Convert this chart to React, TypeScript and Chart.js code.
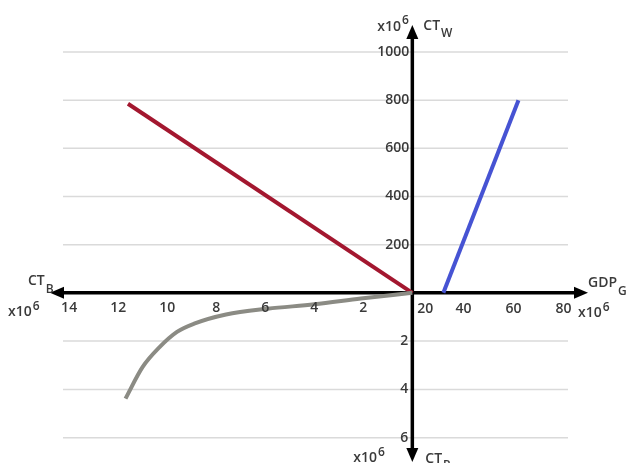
import { useEffect, useRef } from "react";
import { Chart, registerables } from "chart.js";
Chart.register(...registerables);

// Tick labels
const ctBTicks = [14, 12, 10, 8, 6, 4, 2];
const gdpTicks = [20, 40, 60, 80];
const ctWTicks = [200, 400, 600, 800, 1000];
const ctPTicks = [2, 4, 6];

// Series (x10^6)
const redCTB = [11.6, 0];
const redCTW = [785, 0];
const blueGDP = [32, 62];
const blueCTW = [0, 800];
const grayCTB = [0, 2.1, 4.0, 5.9, 7.6, 8.9, 9.6, 10.3, 11.0, 11.7];
const grayCTP = [0, 0.24, 0.48, 0.66, 0.9, 1.28, 1.62, 2.24, 3.07, 4.38];

const FONT = "'Open Sans', sans-serif";
const TEXT = "#3a3a3a";

const zip = (xs: number[], ys: number[]) => xs.map((x, i) => ({ x, y: ys[i] }));

const quadrantPlugin = {
  id: "quadrant",
  beforeDatasetsDraw(chart: any) {
    const { ctx, chartArea: ca, scales } = chart;
    const { xB, yW, yP } = scales;
    const ox = xB.getPixelForValue(0);
    const oy = yW.getPixelForValue(0);
    ctx.save();
    ctx.strokeStyle = "#dadada";
    ctx.lineWidth = 1.5;
    const hline = (y: number) => {
      ctx.beginPath();
      ctx.moveTo(ca.left, y);
      ctx.lineTo(ca.right, y);
      ctx.stroke();
    };
    ctWTicks.forEach((v) => hline(yW.getPixelForValue(v)));
    ctPTicks.forEach((v) => hline(yP.getPixelForValue(v)));

    const L = ca.left - 13, R = ca.right + 20, T = ca.top - 27, B = ca.bottom + 23;
    const AL = 14, AW = 6;
    ctx.strokeStyle = "#000";
    ctx.fillStyle = "#000";
    ctx.lineWidth = 3.5;
    ctx.beginPath();
    ctx.moveTo(L + AL - 2, oy);
    ctx.lineTo(R - AL + 2, oy);
    ctx.moveTo(ox, T + AL - 2);
    ctx.lineTo(ox, B - AL + 2);
    ctx.stroke();
    const tri = (pts: number[][]) => {
      ctx.beginPath();
      ctx.moveTo(pts[0][0], pts[0][1]);
      ctx.lineTo(pts[1][0], pts[1][1]);
      ctx.lineTo(pts[2][0], pts[2][1]);
      ctx.closePath();
      ctx.fill();
    };
    tri([[L, oy], [L + AL, oy - AW], [L + AL, oy + AW]]);
    tri([[R, oy], [R - AL, oy - AW], [R - AL, oy + AW]]);
    tri([[ox, T], [ox - AW, T + AL], [ox + AW, T + AL]]);
    tri([[ox, B], [ox - AW, B - AL], [ox + AW, B - AL]]);
    ctx.restore();
  },
  afterDatasetsDraw(chart: any) {
    const { ctx, chartArea: ca, scales } = chart;
    const { xB, xG, yW, yP } = scales;
    const ox = xB.getPixelForValue(0);
    const oy = yW.getPixelForValue(0);
    const L = ca.left - 13, R = ca.right + 20, T = ca.top - 27, B = ca.bottom + 23;
    ctx.save();
    ctx.fillStyle = TEXT;
    ctx.textBaseline = "middle";
    ctx.font = `600 14px ${FONT}`;
    ctx.textAlign = "center";
    ctBTicks.forEach((v) => ctx.fillText(String(v), xB.getPixelForValue(v), oy + 15));
    gdpTicks.forEach((v) =>
      ctx.fillText(String(v), Math.max(xG.getPixelForValue(v), ox + 13), oy + 16)
    );
    ctx.textAlign = "right";
    ctWTicks.forEach((v) => ctx.fillText(String(v), ox - 3, yW.getPixelForValue(v)));
    ctPTicks.forEach((v) => ctx.fillText(String(v), ox - 4, yP.getPixelForValue(v)));

    const sub = (base: string, s: string, x: number, y: number, dy: number) => {
      ctx.textAlign = "left";
      ctx.font = `600 14px ${FONT}`;
      ctx.fillText(base, x, y);
      const w = ctx.measureText(base).width;
      ctx.font = `600 12px ${FONT}`;
      ctx.fillText(s, x + w + 1, y + dy);
    };
    // axis titles
    sub("CT", "W", ox + 11, T + 1, 8);
    sub("x10", "6", ox - 35, T + 2, -6);
    sub("CT", "B", L - 22, oy - 12, 9);
    sub("x10", "6", L - 42, oy + 19, -5);
    sub("GDP", "G", R, oy - 10, 9);
    sub("x10", "6", R - 10, oy + 20, -5);
    sub("x10", "6", ox - 59, B - 4, -5);
    sub("CT", "P", ox + 13, B - 3, 7);
    ctx.restore();
  },
};

export default function App() {
  const ref = useRef<HTMLCanvasElement | null>(null);
  useEffect(() => {
    if (!ref.current) return;
    const chart = new Chart(ref.current, {
      type: "scatter",
      data: {
        datasets: [
          {
            data: zip(grayCTB, grayCTP),
            xAxisID: "xB",
            yAxisID: "yP",
            showLine: true,
            borderColor: "#8b8b84",
            borderWidth: 4,
            pointRadius: 0,
            cubicInterpolationMode: "monotone",
          },
          {
            data: zip(redCTB, redCTW),
            xAxisID: "xB",
            yAxisID: "yW",
            showLine: true,
            borderColor: "#a3172f",
            borderWidth: 4,
            pointRadius: 0,
          },
          {
            data: zip(blueGDP, blueCTW),
            xAxisID: "xG",
            yAxisID: "yW",
            showLine: true,
            borderColor: "#4653d3",
            borderWidth: 4,
            pointRadius: 0,
          },
        ],
      },
      options: {
        responsive: false,
        animation: false,
        devicePixelRatio: 1,
        layout: { padding: { left: 63, right: 59, top: 52, bottom: 24 } },
        plugins: { legend: { display: false }, tooltip: { enabled: false } },
        scales: {
          xB: { type: "linear", axis: "x", display: false, reverse: true, min: -6.35, max: 14.25 },
          xG: { type: "linear", axis: "x", display: false, min: -120, max: 81.8 },
          yW: { type: "linear", axis: "y", display: false, min: -607, max: 1000 },
          yP: { type: "linear", axis: "y", display: false, reverse: true, min: -9.96, max: 6.05 },
        },
      },
      plugins: [quadrantPlugin],
    });
    return () => chart.destroy();
  }, []);
  return (
    <div style={{ position: "fixed", left: 0, top: 0, width: 627, height: 463, background: "#fff" }}>
      <canvas ref={ref} width={627} height={463} />
    </div>
  );
}
